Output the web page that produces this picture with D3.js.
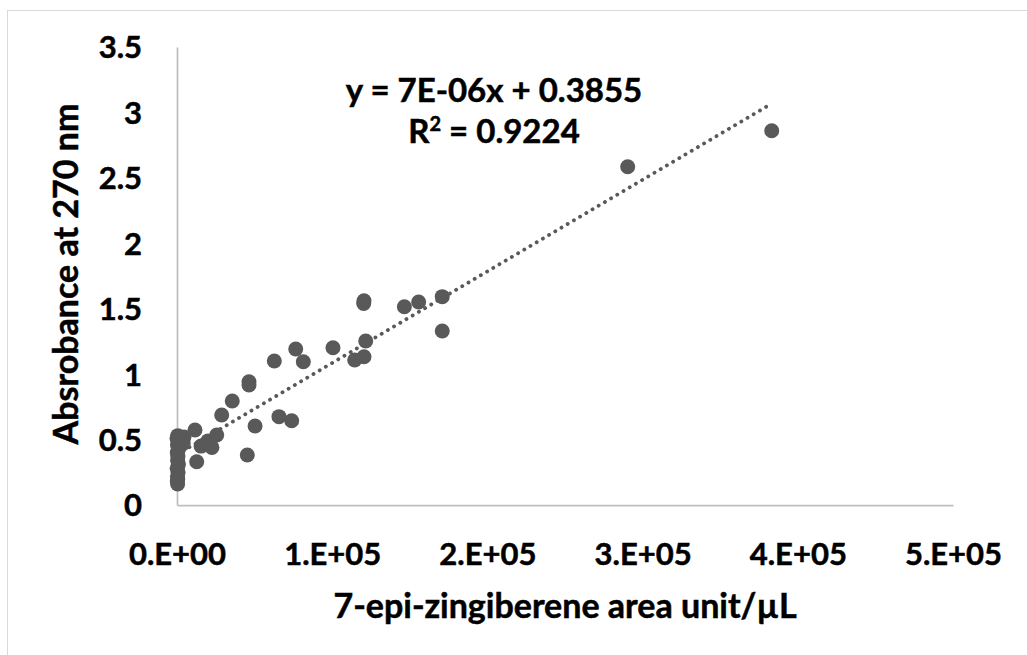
<!DOCTYPE html>
<html>
<head>
<meta charset="utf-8">
<script src="https://cdn.jsdelivr.net/npm/d3@7"></script>
<style>
  html, body { margin: 0; padding: 0; background: #fff; }
  svg { display: block; }
  text { font-family: Lato, "Open Sans", sans-serif; font-weight: 700; fill: #000; stroke: #000; stroke-width: 0.5px; }
</style>
</head>
<body>
<svg id="chart" width="1027" height="655"></svg>
<script>
// Peak area of 7-epi-zingiberene (area units per µL)
const areaValues = [
  500, 0, 800, 300, 1000, 200, 600, 400, 900, 100, 700, 300, 500, 200, 400,
  4500, 4000,
  11600, 15500, 12700, 20000, 25600, 22500, 28800, 35600, 45300, 50300,
  65700, 73900, 46400, 46400, 62700, 76500, 81400, 100500, 114500, 120500,
  121600, 120500, 120300, 146500, 155700, 170900, 170900, 290400, 383200
];
// Absorbance at 270 nm for the same samples
const absorbanceValues = [
  0.53, 0.51, 0.49, 0.46, 0.43, 0.40, 0.37, 0.34, 0.31, 0.28, 0.25, 0.22, 0.20, 0.18, 0.16,
  0.52, 0.47,
  0.573, 0.45, 0.331, 0.49, 0.535, 0.44, 0.688, 0.795, 0.382, 0.604,
  0.675, 0.644, 0.942, 0.917, 1.100, 1.192, 1.095, 1.202, 1.108, 1.133,
  1.253, 1.56, 1.54, 1.515, 1.551, 1.592, 1.330, 2.585, 2.860
];
const xTickValues = [0, 100000, 200000, 300000, 400000, 500000];
const yTickValues = [0, 0.5, 1, 1.5, 2, 2.5, 3, 3.5];

// Linear fit reported on the chart
const fitSlope = 7e-6;
const fitIntercept = 0.3855;
const fitR2 = 0.9224;

const points = areaValues.map((x, i) => ({ x, y: absorbanceValues[i] }));

const svg = d3.select("#chart");
const x = d3.scaleLinear().domain([0, 500000]).range([177, 953]);
const y = d3.scaleLinear().domain([0, 3.5]).range([505, 47]);

// outer frame
svg.append("rect")
  .attr("x", 7.5).attr("y", 10.5)
  .attr("width", 1040).attr("height", 680)
  .attr("fill", "none").attr("stroke", "#d9d9d9").attr("stroke-width", 1);

// Excel-style scientific tick format, e.g. 1.E+05
const sci = d => {
  if (d === 0) return "0.E+00";
  const e = Math.floor(Math.log10(d));
  const m = Math.round(d / Math.pow(10, e));
  return `${m}.E+${String(e).padStart(2, "0")}`;
};

const xAxis = svg.append("g")
  .attr("transform", `translate(0,${y(0)})`)
  .call(d3.axisBottom(x).tickValues(xTickValues).tickSize(0).tickFormat(sci));
xAxis.select(".domain").attr("stroke", "#bfbfbf").attr("stroke-width", 1.75);
xAxis.selectAll("text")
  .attr("y", 49).attr("dy", "0.35em")
  .style("font-family", "Lato, sans-serif").style("font-weight", 700)
  .style("font-size", "31px").attr("fill", "#000");

const yAxis = svg.append("g")
  .attr("transform", `translate(${x(0)},0)`)
  .call(d3.axisLeft(y).tickValues(yTickValues).tickSize(0).tickFormat(d3.format("")));
yAxis.select(".domain").attr("stroke", "#bfbfbf").attr("stroke-width", 1.75);
yAxis.selectAll("text")
  .attr("x", -35).attr("dy", "0.35em")
  .style("font-family", "Lato, sans-serif").style("font-weight", 700)
  .style("font-size", "31px").attr("fill", "#000");

// data markers
svg.append("g").selectAll("circle")
  .data(points)
  .join("circle")
  .attr("cx", d => x(d.x))
  .attr("cy", d => y(d.y))
  .attr("r", 7.5)
  .attr("fill", "#595959");

// dotted linear trendline over the data range
const xMax = d3.max(areaValues);
svg.append("line")
  .attr("x1", x(0)).attr("y1", y(fitIntercept))
  .attr("x2", x(xMax)).attr("y2", y(fitIntercept + fitSlope * xMax))
  .attr("stroke", "#595959")
  .attr("stroke-width", 3.8)
  .attr("stroke-linecap", "round")
  .attr("stroke-dasharray", "0.1 7.1");

// trendline equation
const eq = svg.append("text")
  .attr("text-anchor", "middle")
  .style("font-size", "33px");
eq.append("tspan").attr("x", 494).attr("y", 102).text("y = 7E-06x + " + fitIntercept);
const r2 = eq.append("tspan").attr("x", 494).attr("y", 143);
r2.append("tspan").text("R");
r2.append("tspan").attr("dy", -12).style("font-size", "20px").text("2");
r2.append("tspan").attr("dy", 12).text(" = " + fitR2);

// axis titles
svg.append("text")
  .attr("x", 565).attr("y", 618)
  .attr("text-anchor", "middle")
  .style("font-size", "34px")
  .text("7-epi-zingiberene area unit/µL");

svg.append("text")
  .attr("transform", "translate(78,274) rotate(-90)")
  .attr("text-anchor", "middle")
  .style("font-size", "34px")
  .text("Absrobance at 270 nm");
</script>
</body>
</html>
